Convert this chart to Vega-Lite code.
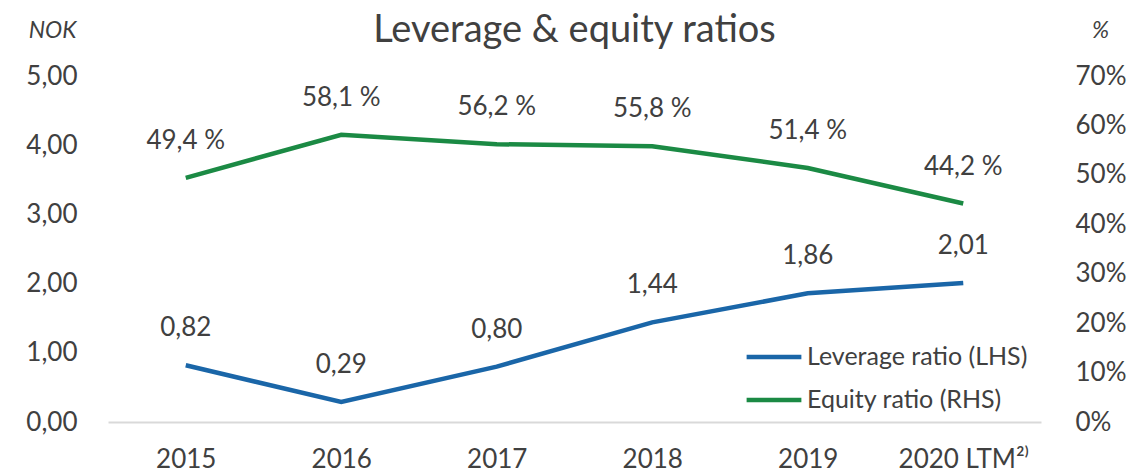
{
  "$schema": "https://vega.github.io/schema/vega-lite/v6.json",
  "autosize": "none",
  "width": 933,
  "height": 346,
  "padding": {"left": 108, "top": 76, "right": 94, "bottom": 54},
  "background": "white",
  "title": {"text": "Leverage & equity ratios", "fontSize": 38, "font": "Lato", "fontWeight": "normal", "color": "#404040", "anchor": "middle", "offset": -31},
  "config": {
    "view": {"stroke": null},
    "font": "Lato",
    "axis": {"labelFont": "Lato", "labelColor": "#404040", "labelFontSize": 26, "titleFont": "Lato", "grid": false, "ticks": false, "domain": false}
  },
  "data": {"values": [
    {"year": "2015", "lev": 0.82, "eq": 49.4},
    {"year": "2016", "lev": 0.29, "eq": 58.1},
    {"year": "2017", "lev": 0.80, "eq": 56.2},
    {"year": "2018", "lev": 1.44, "eq": 55.8},
    {"year": "2019", "lev": 1.86, "eq": 51.4},
    {"year": "2020 LTM²⁾", "lev": 2.01, "eq": 44.2}
  ]},
  "encoding": {
    "x": {"field": "year", "type": "nominal", "sort": null, "scale": {"paddingInner": 0, "paddingOuter": 0},
      "axis": {"title": null, "labelAngle": 0, "labelPadding": 24, "domain": true, "domainColor": "#d9d9d9", "domainWidth": 2}}
  },
  "layer": [
    {
      "layer": [
        {"mark": {"type": "line", "strokeWidth": 4.5},
         "encoding": {
           "y": {"field": "lev", "type": "quantitative", "scale": {"domain": [0, 5]},
             "axis": {"values": [0,1,2,3,4,5], "labelExpr": "replace(format(datum.value, '.2f'), '.', ',')", "labelPadding": 31,
               "title": "NOK", "titleAngle": 0, "titleFontStyle": "italic", "titleFontWeight": "normal", "titleFontSize": 23, "titleColor": "#404040", "titleX": -56, "titleY": -46, "titleAlign": "center", "titleBaseline": "middle"}},
           "color": {"datum": "Leverage ratio (LHS)", "type": "nominal",
             "scale": {"domain": ["Leverage ratio (LHS)", "Equity ratio (RHS)"], "range": ["#1A66A8", "#1B8A44"]},
             "legend": {"title": null, "orient": "none", "legendX": 636, "legendY": 251, "symbolType": "stroke", "symbolSize": 3000, "symbolStrokeWidth": 4.5, "labelFontSize": 25, "labelFont": "Lato", "labelColor": "#404040", "labelOffset": 3, "labelLimit": 0, "rowPadding": 0}}
         }},
        {"mark": {"type": "text", "fontSize": 26, "color": "#404040", "dy": -37, "baseline": "middle"},
         "transform": [{"calculate": "replace(format(datum.lev, '.2f'), '.', ',')", "as": "levLabel"}],
         "encoding": {"y": {"field": "lev", "type": "quantitative"}, "text": {"field": "levLabel"}}}
      ]
    },
    {
      "layer": [
        {"mark": {"type": "line", "strokeWidth": 4.5},
         "encoding": {
           "y": {"field": "eq", "type": "quantitative", "scale": {"domain": [0, 70]},
             "axis": {"orient": "right", "values": [0,10,20,30,40,50,60,70], "labelExpr": "format(datum.value, '.0f') + '%'", "labelPadding": 34,
               "title": "%", "titleAngle": 0, "titleFontStyle": "italic", "titleFontWeight": "normal", "titleFontSize": 23, "titleColor": "#404040", "titleX": 59, "titleY": -46, "titleAlign": "center", "titleBaseline": "middle"}},
           "color": {"datum": "Equity ratio (RHS)", "type": "nominal"}
         }},
        {"mark": {"type": "text", "fontSize": 26, "color": "#404040", "dy": -37, "baseline": "middle"},
         "transform": [{"calculate": "replace(format(datum.eq, '.1f'), '.', ',') + ' %'", "as": "eqLabel"}],
         "encoding": {"y": {"field": "eq", "type": "quantitative"}, "text": {"field": "eqLabel"}}}
      ]
    }
  ],
  "resolve": {"scale": {"y": "independent"}}
}
